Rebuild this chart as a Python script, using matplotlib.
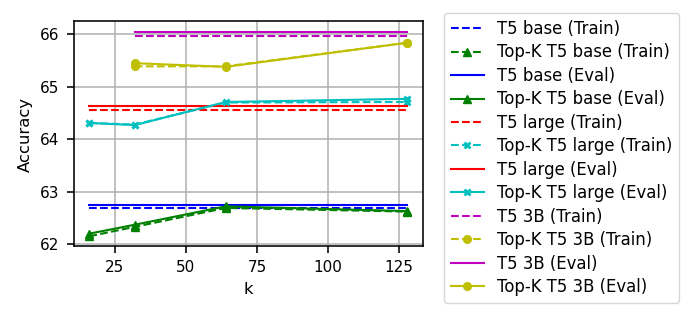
import numpy as np
import matplotlib
matplotlib.use("Agg")
import matplotlib.pyplot as plt

plt.rcParams['font.size'] = 11
plt.rcParams['axes.labelsize'] = 11.8
plt.rcParams['xtick.major.size'] = 5
plt.rcParams['ytick.major.size'] = 5
plt.rcParams['xtick.major.pad'] = 5
plt.rcParams['ytick.major.pad'] = 5
plt.rcParams['xtick.major.width'] = 1.15
plt.rcParams['ytick.major.width'] = 1.15
plt.rcParams['axes.linewidth'] = 1.15
plt.rcParams['axes.labelpad'] = 5.0

# k values
k_small = [16, 32, 64, 128]
k_3b = [32, 64, 128]

# baseline (full) accuracies
base_train, base_eval = 62.69, 62.75
large_train, large_eval = 64.56, 64.64
xl_train, xl_eval = 65.96, 66.05

# Top-K accuracies
topk_base_train = [62.15, 62.33, 62.69, 62.62]
topk_base_eval = [62.20, 62.37, 62.72, 62.63]
topk_large_train = [64.31, 64.28, 64.70, 64.71]
topk_large_eval = [64.31, 64.27, 64.71, 64.77]
topk_3b_train = [65.39, 65.39, 65.84]
topk_3b_eval = [65.45, 65.38, 65.84]

fig = plt.figure(figsize=(6.95, 3.16), dpi=100)
ax = fig.add_axes([0.1058, 0.22, 0.5033, 0.712])

ms = 5.5
ax.plot(k_small, [base_train] * 4, 'b--', label='T5 base (Train)')
ax.plot(k_small, topk_base_train, 'g--^', ms=ms, label='Top-K T5 base (Train)')
ax.plot(k_small, [base_eval] * 4, 'b-', label='T5 base (Eval)')
ax.plot(k_small, topk_base_eval, 'g-^', ms=ms, label='Top-K T5 base (Eval)')
ax.plot(k_small, [large_train] * 4, 'r--', label='T5 large (Train)')
ax.plot(k_small, topk_large_train, 'c--x', ms=4.5, mew=2, label='Top-K T5 large (Train)')
ax.plot(k_small, [large_eval] * 4, 'r-', label='T5 large (Eval)')
ax.plot(k_small, topk_large_eval, 'c-x', ms=4.5, mew=2, label='Top-K T5 large (Eval)')
ax.plot(k_3b, [xl_train] * 3, 'm--', label='T5 3B (Train)')
ax.plot(k_3b, topk_3b_train, 'y--o', ms=ms, label='Top-K T5 3B (Train)')
ax.plot(k_3b, [xl_eval] * 3, 'm-', label='T5 3B (Eval)')
ax.plot(k_3b, topk_3b_eval, 'y-o', ms=ms, label='Top-K T5 3B (Eval)')

ax.set_xlabel('k')
ax.set_ylabel('Accuracy')
ax.set_xticks([25, 50, 75, 100, 125])
ax.set_yticks([62, 63, 64, 65, 66])
ax.grid(True, color='#b0b0b0', lw=1.1)
ax.legend(loc='upper left', bbox_to_anchor=(1.059, 1.036), borderaxespad=0,
          fontsize=11.9, labelspacing=0.33)

fig.savefig('out.png', dpi=100)
